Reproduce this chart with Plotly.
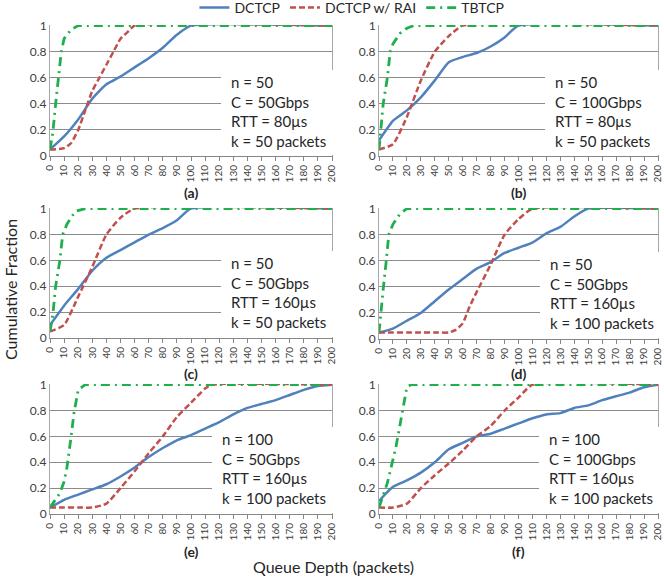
import plotly.graph_objects as go

W, H = 664, 577

# queue depth (packets) vs cumulative fraction
a_dctcp_x = [0, 10, 20, 30, 40, 50, 60, 70, 80, 90, 100, 200]
a_dctcp_y = [0.05, 0.15, 0.28, 0.44, 0.55, 0.61, 0.68, 0.75, 0.83, 0.93, 1, 1]
a_rai_x = [0, 10, 15, 20, 25, 30, 35, 40, 45, 50, 55, 60, 200]
a_rai_y = [0.05, 0.06, 0.1, 0.2, 0.35, 0.5, 0.6, 0.7, 0.8, 0.9, 0.95, 1, 1]
a_tb_x = [0, 2, 4, 6, 8, 10, 15, 20, 200]
a_tb_y = [0.05, 0.18, 0.4, 0.6, 0.8, 0.9, 0.97, 1, 1]

b_dctcp_x = [0, 10, 20, 30, 40, 50, 60, 70, 80, 90, 100, 200]
b_dctcp_y = [0.12, 0.27, 0.35, 0.45, 0.58, 0.72, 0.76, 0.79, 0.84, 0.91, 1, 1]
b_rai_x = [0, 10, 20, 30, 40, 50, 60, 200]
b_rai_y = [0.05, 0.09, 0.3, 0.58, 0.8, 0.92, 1, 1]
b_tb_x = [0, 1, 3, 6, 8, 10, 15, 20, 25, 200]
b_tb_y = [0.05, 0.18, 0.4, 0.6, 0.8, 0.86, 0.94, 0.98, 1, 1]

c_dctcp_x = [0, 10, 20, 30, 40, 50, 60, 70, 80, 90, 100, 200]
c_dctcp_y = [0.1, 0.25, 0.38, 0.52, 0.62, 0.68, 0.74, 0.8, 0.85, 0.91, 1, 1]
c_rai_x = [0, 10, 20, 30, 40, 50, 60, 200]
c_rai_y = [0.05, 0.1, 0.32, 0.55, 0.8, 0.93, 1, 1]
c_tb_x = [0, 2, 4, 7, 9, 12, 18, 25, 200]
c_tb_y = [0.05, 0.18, 0.4, 0.6, 0.8, 0.88, 0.98, 1, 1]

d_dctcp_x = [0, 10, 20, 30, 40, 50, 60, 70, 80, 90, 100, 110, 120, 130, 140, 150, 200]
d_dctcp_y = [0.05, 0.08, 0.14, 0.2, 0.29, 0.38, 0.46, 0.54, 0.59, 0.66, 0.7, 0.74, 0.81, 0.86, 0.94, 1, 1]
d_rai_x = [0, 10, 20, 30, 40, 50, 55, 60, 65, 70, 80, 90, 100, 110, 200]
d_rai_y = [0.05, 0.05, 0.05, 0.05, 0.05, 0.05, 0.07, 0.12, 0.25, 0.36, 0.57, 0.8, 0.92, 1, 1]
d_tb_x = [0, 1, 3, 5, 7, 10, 15, 20, 200]
d_tb_y = [0.05, 0.18, 0.38, 0.58, 0.8, 0.88, 0.96, 1, 1]

e_dctcp_x = [0, 10, 20, 30, 40, 50, 60, 70, 80, 90, 100, 110, 120, 130, 140, 150, 160, 170, 180, 190, 200]
e_dctcp_y = [0.05, 0.11, 0.15, 0.19, 0.23, 0.29, 0.36, 0.44, 0.51, 0.57, 0.61, 0.66, 0.71, 0.77, 0.82, 0.85, 0.88, 0.92, 0.96, 0.99, 1]
e_rai_x = [0, 10, 20, 30, 40, 50, 60, 70, 80, 90, 100, 110, 115, 200]
e_rai_y = [0.05, 0.05, 0.05, 0.05, 0.08, 0.2, 0.33, 0.47, 0.6, 0.75, 0.86, 0.97, 1, 1]
e_tb_x = [0, 7, 10, 12, 15, 17, 20, 25, 200]
e_tb_y = [0.05, 0.16, 0.25, 0.36, 0.6, 0.78, 0.96, 1, 1]

f_dctcp_x = [0, 5, 10, 20, 30, 40, 50, 60, 70, 80, 90, 100, 110, 120, 130, 140, 150, 160, 170, 180, 190, 200]
f_dctcp_y = [0.1, 0.16, 0.21, 0.26, 0.32, 0.4, 0.5, 0.55, 0.6, 0.62, 0.66, 0.7, 0.74, 0.77, 0.78, 0.82, 0.84, 0.88, 0.91, 0.94, 0.98, 1]
f_rai_x = [0, 10, 20, 30, 40, 50, 60, 70, 80, 90, 100, 110, 200]
f_rai_y = [0.05, 0.05, 0.08, 0.2, 0.3, 0.39, 0.49, 0.6, 0.68, 0.8, 0.9, 1, 1]
f_tb_x = [0, 6, 12, 17, 20, 23, 200]
f_tb_y = [0.05, 0.24, 0.51, 0.81, 0.98, 1, 1]

panel_labels = ['(a)', '(b)', '(c)', '(d)', '(e)', '(f)']
panel_params = [
    'n = 50<br>C = 50Gbps<br>RTT = 80µs<br>k = 50 packets',
    'n = 50<br>C = 100Gbps<br>RTT = 80µs<br>k = 50 packets',
    'n = 50<br>C = 50Gbps<br>RTT = 160µs<br>k = 50 packets',
    'n = 50<br>C = 50Gbps<br>RTT = 160µs<br>k = 100 packets',
    'n = 100<br>C = 50Gbps<br>RTT = 160µs<br>k = 100 packets',
    'n = 100<br>C = 100Gbps<br>RTT = 160µs<br>k = 100 packets',
]
x_ticks = list(range(0, 201, 10))
y_ticks = [0, 0.2, 0.4, 0.6, 0.8, 1]

series = [
    (a_dctcp_x, a_dctcp_y, a_rai_x, a_rai_y, a_tb_x, a_tb_y),
    (b_dctcp_x, b_dctcp_y, b_rai_x, b_rai_y, b_tb_x, b_tb_y),
    (c_dctcp_x, c_dctcp_y, c_rai_x, c_rai_y, c_tb_x, c_tb_y),
    (d_dctcp_x, d_dctcp_y, d_rai_x, d_rai_y, d_tb_x, d_tb_y),
    (e_dctcp_x, e_dctcp_y, e_rai_x, e_rai_y, e_tb_x, e_tb_y),
    (f_dctcp_x, f_dctcp_y, f_rai_x, f_rai_y, f_tb_x, f_tb_y),
]

# pixel boxes of the plot areas: left, right, top, bottom
boxes = [
    (50, 332, 25, 156), (379, 658, 25, 156),
    (50, 332, 208, 338), (379, 658, 208, 339),
    (50, 332, 384, 514), (379, 658, 384, 514),
]
# where the parameter text box starts and where its first line sits
text_pos = [(221, 81), (545, 81), (221, 262), (540, 263), (212, 438), (539, 438)]
label_y = [192, 192, 373, 373, 551, 551]

BLUE = '#4F81BD'
RED = '#C0504D'
GREEN = '#1FAF4B'
FONT = 'Lato'

fig = go.Figure()
layout = dict(width=W, height=H, margin=dict(l=0, r=0, t=0, b=0, autoexpand=False),
              paper_bgcolor='white', plot_bgcolor='white',
              font=dict(family=FONT, color='#262626'))
annotations = []
shapes = []

for i, (dx, dy, rx, ry, tx, ty) in enumerate(series):
    n = '' if i == 0 else str(i + 1)
    xa, ya = 'x' + n, 'y' + n
    first = i == 0
    fig.add_trace(go.Scatter(x=dx, y=dy, xaxis=xa, yaxis=ya, mode='lines', name='DCTCP',
                             line=dict(color=BLUE, width=2.5, shape='spline', smoothing=0.5),
                             showlegend=first, legendrank=1))
    fig.add_trace(go.Scatter(x=rx, y=ry, xaxis=xa, yaxis=ya, mode='lines', name='DCTCP w/ RAI',
                             line=dict(color=RED, width=2.5, dash='6px,3px', shape='spline', smoothing=0.5),
                             showlegend=first, legendrank=2))
    fig.add_trace(go.Scatter(x=tx, y=ty, xaxis=xa, yaxis=ya, mode='lines', name='TBTCP',
                             line=dict(color=GREEN, width=2.8, dash='9px,5px,2px,5px'),
                             showlegend=first, legendrank=3))

    l, r, t, b = boxes[i]
    layout['xaxis' + n] = dict(domain=[l / W, r / W], anchor=ya, range=[0, 200],
                               tickvals=x_ticks, tickangle=-90, ticks='outside', ticklen=4,
                               tickcolor='#868686', showline=True, linecolor='#868686',
                               showgrid=False, zeroline=False, automargin=False,
                               tickfont=dict(size=10, color='#404040'))
    layout['yaxis' + n] = dict(domain=[1 - b / H, 1 - t / H], anchor=xa, range=[0, 1.005],
                               tickvals=y_ticks, ticktext=['0', '0.2', '0.4', '0.6', '0.8', '1'],
                               showline=True, mirror=True, linecolor='#A6A6A6',
                               showgrid=True, gridcolor='#8C8C8C', gridwidth=1, zeroline=False,
                               automargin=False, tickfont=dict(size=12, color='#404040'))

    bx, ty0 = text_pos[i]
    shapes.append(dict(type='rect', xref='paper', yref='paper', layer='above',
                       x0=bx / W, x1=(r + 4) / W, y0=1 - (b - 1) / H, y1=1 - (ty0 - 11) / H,
                       fillcolor='white', line=dict(width=0)))
    annotations.append(dict(xref='paper', yref='paper', x=(bx + 8) / W, y=1 - (ty0 - 10) / H,
                            xanchor='left', yanchor='top', align='left', showarrow=False,
                            text=panel_params[i], font=dict(size=15, color='#262626')))
    annotations.append(dict(xref='paper', yref='paper', x=(l + r) / 2 / W, y=1 - label_y[i] / H,
                            xanchor='center', yanchor='middle', showarrow=False,
                            text='<b>' + panel_labels[i] + '</b>', font=dict(size=14, color='#262626')))

annotations.append(dict(xref='paper', yref='paper', x=10 / W, y=1 - 290 / H, textangle=-90,
                        xanchor='center', yanchor='middle', showarrow=False,
                        text='Cumulative Fraction', font=dict(size=16, color='#262626')))
annotations.append(dict(xref='paper', yref='paper', x=333 / W, y=1 - 566 / H,
                        xanchor='center', yanchor='middle', showarrow=False,
                        text='Queue Depth (packets)', font=dict(size=16, color='#262626')))

layout['annotations'] = annotations
layout['shapes'] = shapes
layout['legend'] = dict(orientation='h', x=0.53, xanchor='center', y=1 + 8 / H, yanchor='top',
                        font=dict(size=14, color='#262626'), bgcolor='rgba(0,0,0,0)',
                        tracegroupgap=0, itemwidth=30)
fig.update_layout(**layout)

# the page's default body margin would push the 664x577 figure off the window
fig.write_html("out.html", config={'displayModeBar': False},
               post_script="document.body.style.margin='0';")
